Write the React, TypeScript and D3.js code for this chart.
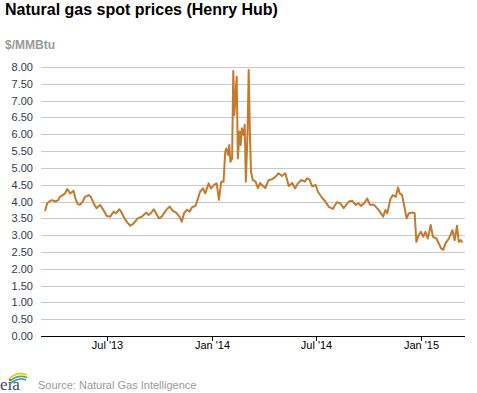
import React from "react";
import * as d3 from "d3";

const TITLE = "Natural gas spot prices (Henry Hub)";
const UNIT = "$/MMBtu";
const SOURCE = "Source: Natural Gas Intelligence";

const dates: string[] = [
  "2013-03-15","2013-03-19","2013-03-24","2013-03-27","2013-04-02","2013-04-07","2013-04-10","2013-04-15","2013-04-19","2013-04-23",
  "2013-04-28","2013-05-04","2013-05-07","2013-05-11","2013-05-15","2013-05-20","2013-05-24","2013-05-30","2013-06-03","2013-06-08",
  "2013-06-13","2013-06-19","2013-06-25","2013-07-01","2013-07-07","2013-07-13","2013-07-17","2013-07-23","2013-07-27","2013-07-31",
  "2013-08-06","2013-08-11","2013-08-17","2013-08-24","2013-08-31","2013-09-08","2013-09-12","2013-09-16","2013-09-21","2013-09-25",
  "2013-09-30","2013-10-05","2013-10-13","2013-10-19","2013-10-24","2013-10-30","2013-11-05","2013-11-09","2013-11-13","2013-11-18",
  "2013-11-23","2013-11-27","2013-12-03","2013-12-07","2013-12-11","2013-12-16","2013-12-20","2013-12-26","2013-12-30","2014-01-05",
  "2014-01-09","2014-01-13","2014-01-17","2014-01-21","2014-01-24","2014-01-26","2014-01-29","2014-01-31","2014-02-02","2014-02-05",
  "2014-02-07","2014-02-09","2014-02-12","2014-02-13","2014-02-15","2014-02-18","2014-02-20","2014-02-22","2014-02-25","2014-02-27",
  "2014-03-01","2014-03-04","2014-03-06","2014-03-08","2014-03-10","2014-03-13","2014-03-18","2014-03-22","2014-03-26","2014-03-29",
  "2014-04-04","2014-04-10","2014-04-16","2014-04-22","2014-04-27","2014-05-03","2014-05-09","2014-05-15","2014-05-21","2014-05-26",
  "2014-05-31","2014-06-06","2014-06-12","2014-06-16","2014-06-20","2014-06-25","2014-07-01","2014-07-05","2014-07-11","2014-07-18",
  "2014-07-24","2014-07-31","2014-08-07","2014-08-13","2014-08-19","2014-08-28","2014-09-03","2014-09-09","2014-09-14","2014-09-18",
  "2014-09-24","2014-09-29","2014-10-04","2014-10-11","2014-10-19","2014-10-27","2014-10-31","2014-11-03","2014-11-09","2014-11-13",
  "2014-11-18","2014-11-22","2014-11-25","2014-11-29","2014-12-03","2014-12-07","2014-12-11","2014-12-17","2014-12-21","2014-12-24",
  "2014-12-28","2015-01-01","2015-01-05","2015-01-09","2015-01-13","2015-01-18","2015-01-22","2015-01-28","2015-02-01","2015-02-05",
  "2015-02-09","2015-02-13","2015-02-19","2015-02-25","2015-03-01","2015-03-05","2015-03-08","2015-03-12","2015-03-14"
];

const prices: number[] = [
  3.72,3.95,4.02,4.04,4.00,4.04,4.14,4.19,4.24,4.37,
  4.24,4.32,4.09,3.93,3.90,4.00,4.14,4.19,4.14,3.95,
  3.80,3.90,3.75,3.57,3.55,3.70,3.65,3.77,3.67,3.52,
  3.37,3.28,3.35,3.50,3.55,3.67,3.60,3.65,3.77,3.65,
  3.50,3.55,3.75,3.85,3.73,3.67,3.55,3.40,3.65,3.75,
  3.70,3.83,3.87,4.07,4.29,4.39,4.24,4.54,4.39,4.50,
  4.54,4.05,4.59,4.59,5.48,5.58,5.38,5.68,5.18,5.28,
  7.88,6.57,7.46,7.71,5.28,6.08,5.68,6.18,5.98,6.28,
  4.59,6.08,7.91,6.08,4.89,4.64,4.59,4.40,4.55,4.49,
  4.40,4.64,4.66,4.74,4.84,4.76,4.84,4.46,4.55,4.39,
  4.54,4.64,4.59,4.69,4.66,4.45,4.49,4.29,4.14,4.00,
  3.84,3.78,3.98,3.95,3.80,4.00,4.02,3.90,3.95,3.87,
  3.95,4.09,3.90,3.90,3.75,3.55,3.75,3.65,4.09,4.19,
  4.14,4.42,4.24,4.19,3.85,3.50,3.65,3.67,3.65,2.80,
  3.00,3.10,2.95,3.10,2.90,3.30,2.95,2.90,2.76,2.61,
  2.56,2.76,2.90,3.15,2.85,3.28,2.80,2.85,2.78
];

const yTicks: number[] = [0, 0.5, 1, 1.5, 2, 2.5, 3, 3.5, 4, 4.5, 5, 5.5, 6, 6.5, 7, 7.5, 8];
const xTickDates: string[] = ["2013-07-01", "2014-01-01", "2014-07-01", "2015-01-01"];
const xTickLabels: string[] = ["Jul '13", "Jan '14", "Jul '14", "Jan '15"];
const xDomain: string[] = ["2013-03-08", "2015-03-19"];

const W = 477;
const H = 393;
const FONT = "'Liberation Sans', Arial, sans-serif";

export default function App() {
  const parse = d3.utcParse("%Y-%m-%d");
  const x = d3
    .scaleUtc()
    .domain(xDomain.map((d) => parse(d) as Date))
    .range([41, 465]);
  const y = d3.scaleLinear().domain([0, 8]).range([336, 67]);

  const data = dates.map((d, i) => ({ date: parse(d) as Date, value: prices[i] }));
  const line = d3
    .line<{ date: Date; value: number }>()
    .x((d) => x(d.date))
    .y((d) => y(d.value));

  return (
    <div style={{ position: "absolute", left: 0, top: 0 }}>
      <svg width={W} height={H} style={{ display: "block", background: "#fff" }}>
        <text x={5} y={15} fontFamily={FONT} fontWeight="bold" fontSize={16} fill="#000">
          {TITLE}
        </text>
        <text x={5} y={49} fontFamily={FONT} fontWeight="bold" fontSize={12} fill="#999">
          {UNIT}
        </text>
        {yTicks.map((t) => (
          <g key={t}>
            <line
              x1={41}
              x2={465}
              y1={Math.round(y(t)) + 0.5}
              y2={Math.round(y(t)) + 0.5}
              stroke={t === 0 ? "#000" : "#c8c8c8"}
              strokeWidth={1}
            />
            <text
              x={33}
              y={Math.round(y(t)) + 4}
              textAnchor="end"
              fontFamily={FONT}
              fontSize={11}
              fill="#2f3b4c"
            >
              {t.toFixed(2)}
            </text>
          </g>
        ))}
        {xTickDates.map((d, i) => {
          const px = Math.round(x(parse(d) as Date)) + 0.5;
          return (
            <g key={d}>
              <line x1={px} x2={px} y1={336} y2={341} stroke="#000" strokeWidth={1} />
              <text x={px} y={349} textAnchor="middle" fontFamily={FONT} fontSize={11} fill="#000">
                {xTickLabels[i]}
              </text>
            </g>
          );
        })}
        <path d={line(data) || ""} fill="none" stroke="#c47a2e" strokeWidth={2} strokeLinejoin="round" />
        <g>
          <path d="M9,379 Q17,371 27,375" fill="none" stroke="#f2c31a" strokeWidth={1.6} />
          <path d="M10,381 Q18,374 27,377.5" fill="none" stroke="#5aa844" strokeWidth={1.6} />
          <path d="M11,383 Q19,377 26,380" fill="none" stroke="#2e8fc9" strokeWidth={1.6} />
          <text x={0} y={390} fontFamily="'Liberation Serif', serif" fontSize={17} fill="#3a4a5c">
            eia
          </text>
        </g>
        <text x={38} y={389} fontFamily={FONT} fontSize={11} fill="#999">
          {SOURCE}
        </text>
      </svg>
    </div>
  );
}
